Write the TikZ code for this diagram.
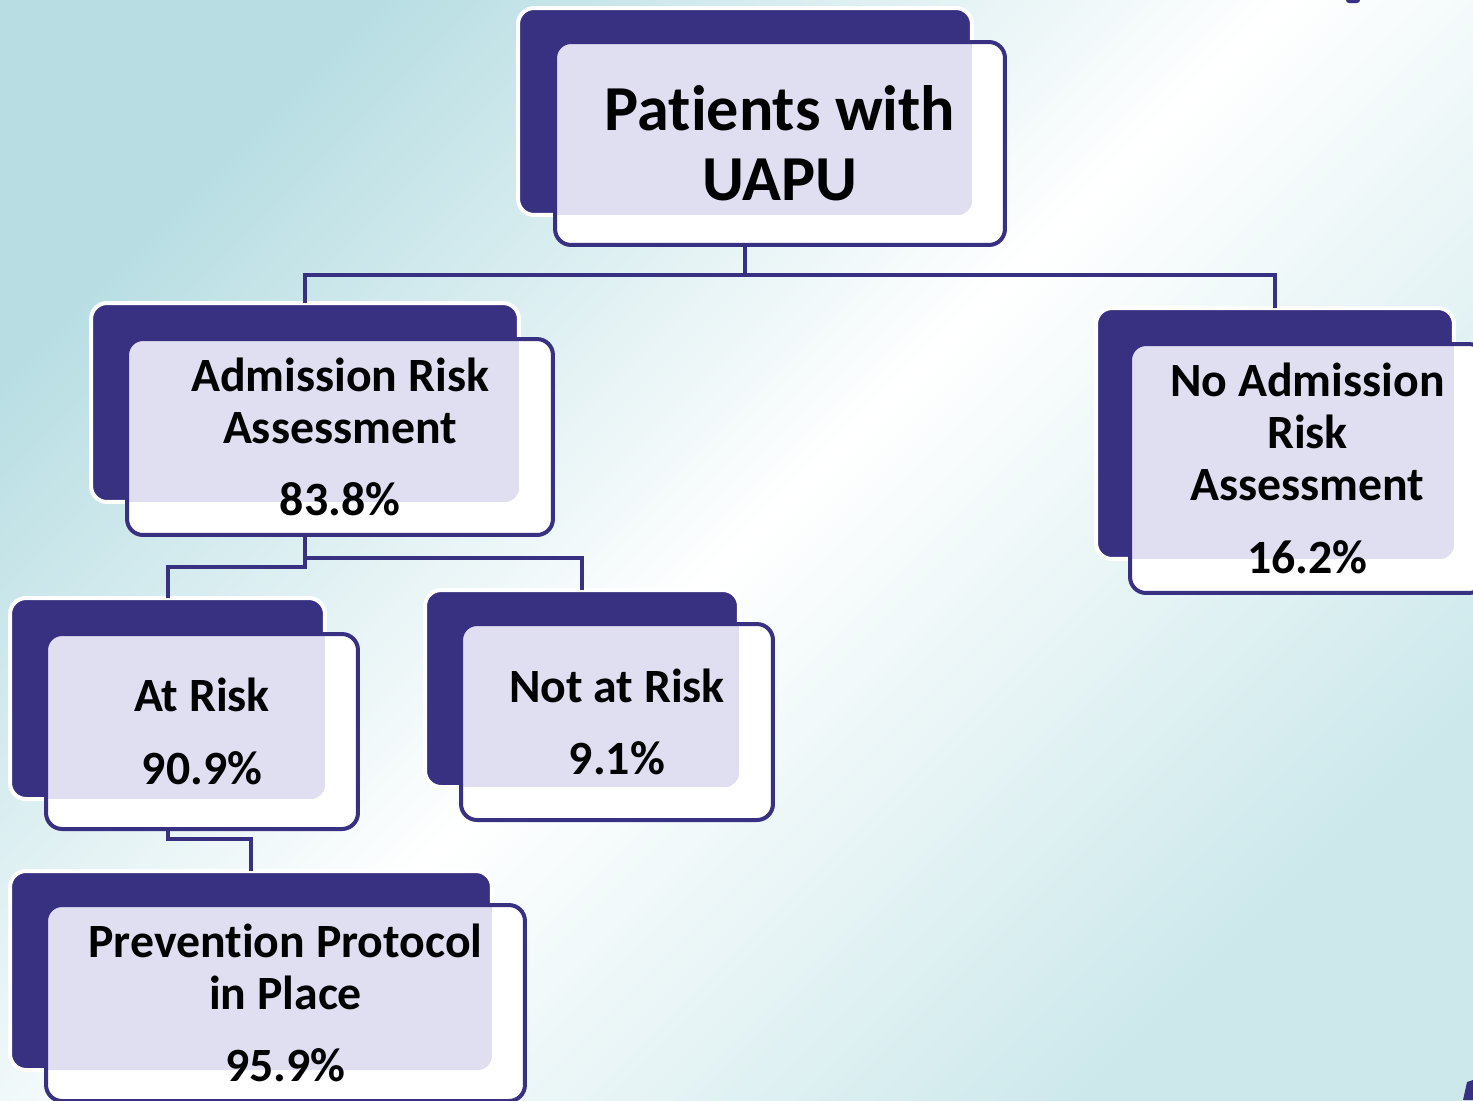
\documentclass[tikz,border=0pt]{standalone}
\usepackage{fontspec}
\usepackage{tikz}
\setmainfont{Carlito}[Ligatures = NoCommon]
\usetikzlibrary{positioning}
\definecolor{ink}{RGB}{56, 48, 128}
\definecolor{tint}{RGB}{224, 222, 241}
\definecolor{tealA}{RGB}{184, 222, 227}
\definecolor{tealB}{RGB}{204, 232, 235}
\newcommand{\titlefont}{\fontsize{36.5}{40}\selectfont\bfseries}
\newcommand{\boxfont}{\fontsize{27.2}{29.5}\selectfont\bfseries}
\tikzset{backbox/.style = {fill = ink, draw = white, line width = 0.08cm, rounded corners = 0.32cm, inner sep = 0, outer sep = 0}}
\tikzset{frontbox/.style = {fill = white, draw = ink, line width = 0.08cm, rounded corners = 0.32cm, inner sep = 0, outer sep = 0, align = center, font = \boxfont}}
\tikzset{tinted/.style = {path picture = {\fill [tint, rounded corners = 0.28cm] ([shift = {(-10, -10)}]path picture bounding box.north west) rectangle (#1.south east);}}}
\tikzset{link/.style = {draw = ink, line width = 0.08cm}}

\begin{document}
\begin{tikzpicture}[x = 0.02cm, y = -0.02cm]
    \clip (0, 0) rectangle (1473, 1100);
    \shade [top color = tealA, bottom color = tealB, middle color = white, shading angle = 45] (0, 0) rectangle (1473, 1100);

    \node [backbox, minimum width = 9.08cm, minimum height = 4.14cm] (uapu) at (745, 111.5) {};
    \node [backbox, minimum width = 8.56cm, minimum height = 3.98cm] (ara) at (305, 402.5) {};
    \node [backbox, minimum width = 7.16cm, minimum height = 5.02cm] (nara) at (1275, 433.5) {};
    \node [backbox, minimum width = 6.3cm, minimum height = 4.02cm] (atrisk) at (167.5, 698.5) {};
    \node [backbox, minimum width = 6.28cm, minimum height = 3.94cm] (notrisk) at (582, 688.5) {};
    \node [backbox, minimum width = 9.64cm, minimum height = 3.98cm] (prev) at (251, 970.5) {};

    \draw [link] (uapu.south) -- ++(0, 60) -| (ara.north);
    \draw [link] (uapu.south) -- ++(0, 60) -| (nara.north);
    \draw [link] (ara.south) -- ++(0, 65) -| (atrisk.north);
    \draw [link] (ara.south) -- ++(0, 56) -| (notrisk.north);
    \draw [link] (atrisk.south) -- ++(0, 40) -| (prev.north);

    \node [frontbox, tinted = uapu, font = \titlefont, minimum width = 9cm, minimum height = 4.06cm] (uapu-f) at (780, 143.5) {Patients with\\UAPU};
    \node [frontbox, tinted = ara, minimum width = 8.52cm, minimum height = 3.92cm] (ara-f) at (340, 437) {Admission Risk\\Assessment\\[0.42cm]83.8\%};
    \node [frontbox, tinted = nara, minimum width = 7.1cm, minimum height = 4.98cm] (nara-f) at (1307.5, 468.5) {No Admission\\Risk\\Assessment\\[0.42cm]16.2\%};
    \node [frontbox, tinted = atrisk, minimum width = 6.24cm, minimum height = 3.9cm] (atrisk-f) at (202, 731.5) {At Risk\\[0.42cm]90.9\%};
    \node [frontbox, tinted = notrisk, minimum width = 6.24cm, minimum height = 3.92cm] (notrisk-f) at (617, 722) {Not at Risk\\[0.42cm]9.1\%};
    \node [frontbox, tinted = prev, minimum width = 9.58cm, minimum height = 3.92cm] (prev-f) at (285.5, 1003) {Prevention Protocol\\in Place\\[0.42cm]95.9\%};

    \fill [ink, rounded corners = 0.06cm] (1346, -6) rectangle (1360, 3);
    \fill [ink] (1463, 1100) -- (1467, 1082) -- (1473, 1080) -- (1473, 1100) -- cycle;
\end{tikzpicture}
\end{document}
